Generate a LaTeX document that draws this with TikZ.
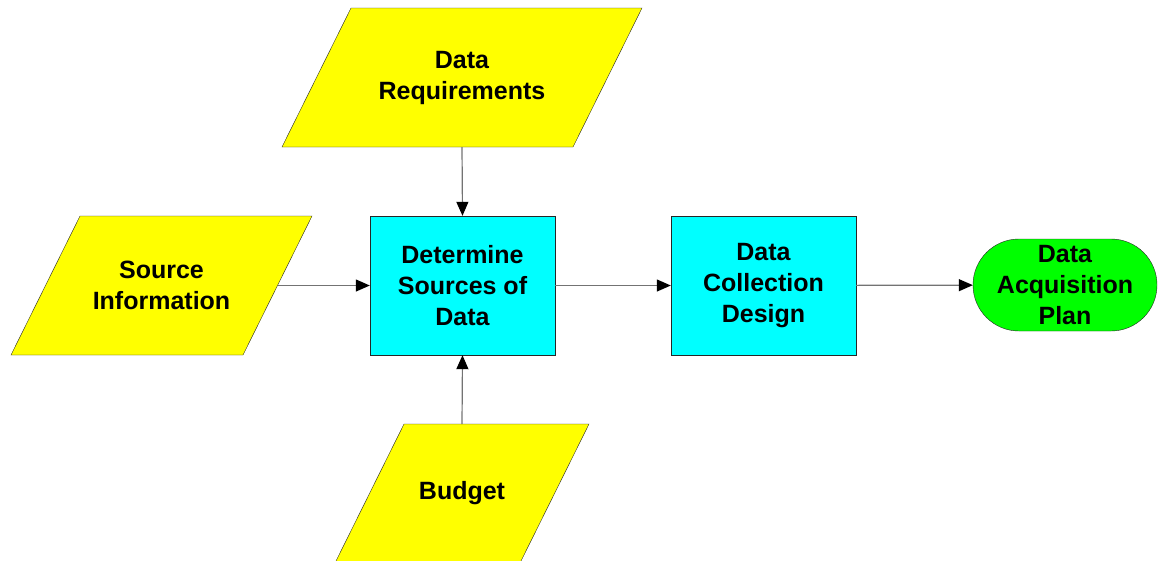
\documentclass[tikz,border=0pt]{standalone}
\usepackage{fontspec}
\setmainfont{Liberation Sans}
\usetikzlibrary{arrows.meta,backgrounds}
\definecolor{inyellow}{RGB}{255,255,0}
\definecolor{proccyan}{RGB}{0,255,255}
\definecolor{outgreen}{RGB}{0,255,0}
\begin{document}
\begin{tikzpicture}[x=1pt,y=-1pt,
  every node/.style={font=\fontsize{25}{31}\selectfont\bfseries,align=center},
  inbox/.style={minimum height=139pt,inner sep=0pt,outer sep=0pt},
  inshape/.style={draw=black!85,fill=inyellow},
  procbox/.style={draw=black!85,fill=proccyan,minimum width=185pt,minimum height=139pt,inner sep=0pt},
  outbox/.style={draw=black!85,fill=outgreen,rounded corners=46pt,minimum width=184pt,
    minimum height=92pt,inner sep=0pt},
  arr/.style={draw=black!55,line width=1.2pt,-{Triangle[length=14pt,width=12pt,black]}}]
  \useasboundingbox (0,0) rectangle (1158,560);
  % inputs
  \node[inbox,minimum width=291pt] (req) at (462,77.5) {Data\\Requirements};
  \node[inbox,minimum width=232pt] (src) at (161.5,285.5) {Source\\Information};
  \node[inbox,minimum width=185pt] (bud) at (462,493.5) {Budget};
  \begin{scope}[on background layer]
    \foreach \n in {req,src,bud}
      \draw[inshape] ([xshift=34.5pt]\n.north west) -- ([xshift=34.5pt]\n.north east)
        -- ([xshift=-34.5pt]\n.south east) -- ([xshift=-34.5pt]\n.south west) -- cycle;
  \end{scope}
  % process
  \node[procbox] (det) at (462.5,285.5) {Determine\\Sources of\\Data};
  \node[procbox] (dcd) at (763.5,285.5) {Data\\Collection\\Design};
  \node[outbox] (plan) at (1065,285) {Data\\Acquisition\\Plan};
  % flow
  \draw[arr] (req.south) -- (det.north);
  \draw[arr] (src.east) -- (det.west);
  \draw[arr] (bud.north) -- (det.south);
  \draw[arr] (det) -- (dcd);
  \draw[arr] (dcd) -- (plan);
\end{tikzpicture}
\end{document}
